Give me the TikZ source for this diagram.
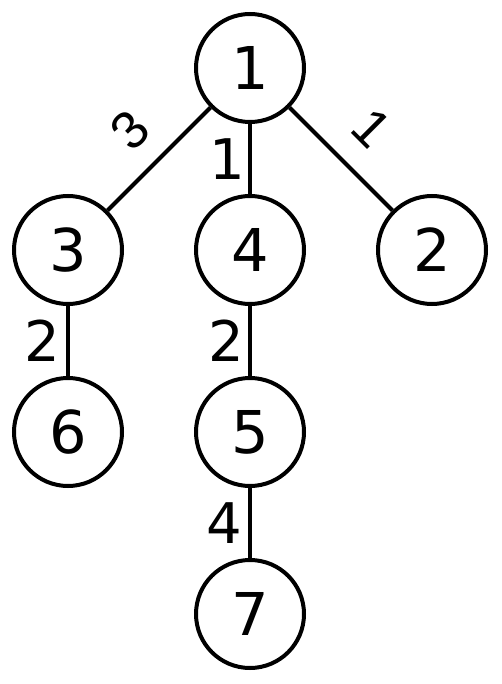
\documentclass[tikz,border=0pt]{standalone}
\usepackage{fontspec}
\setmainfont{DejaVu Sans}
\newfontfamily\rotfont{Liberation Sans}
\begin{document}
\begin{tikzpicture}[x=1pt,y=1pt,
  vtx/.style={circle,draw,line width=4pt,minimum size=108pt,inner sep=0pt,font=\fontsize{59}{60}\selectfont},
  wt/.style={inner sep=0pt,font=\fontsize{56}{57}\selectfont},
  rwt/.style={inner sep=0pt,font=\rotfont\fontsize{53}{55}\selectfont},
  edg/.style={line width=4pt}]
\useasboundingbox (0,0) rectangle (502,-684);
\node[vtx] (n1) at (250,-68) {1};
\node[vtx] (n3) at (68,-250) {3};
\node[vtx] (n4) at (250,-250) {4};
\node[vtx] (n2) at (432,-250) {2};
\node[vtx] (n6) at (68,-432) {6};
\node[vtx] (n5) at (250,-432) {5};
\node[vtx] (n7) at (250,-614) {7};
\draw[edg] (n1) -- node[rwt,midway,sloped,above=20pt] {3} (n3);
\draw[edg] (n1) -- node[wt,midway,left=3pt] {1} (n4);
\draw[edg] (n1) -- node[rwt,midway,sloped,above=24pt] {1} (n2);
\draw[edg] (n3) -- node[wt,midway,left=6pt] {2} (n6);
\draw[edg] (n4) -- node[wt,midway,left=4pt] {2} (n5);
\draw[edg] (n5) -- node[wt,midway,left=6pt] {4} (n7);
\end{tikzpicture}
\end{document}
